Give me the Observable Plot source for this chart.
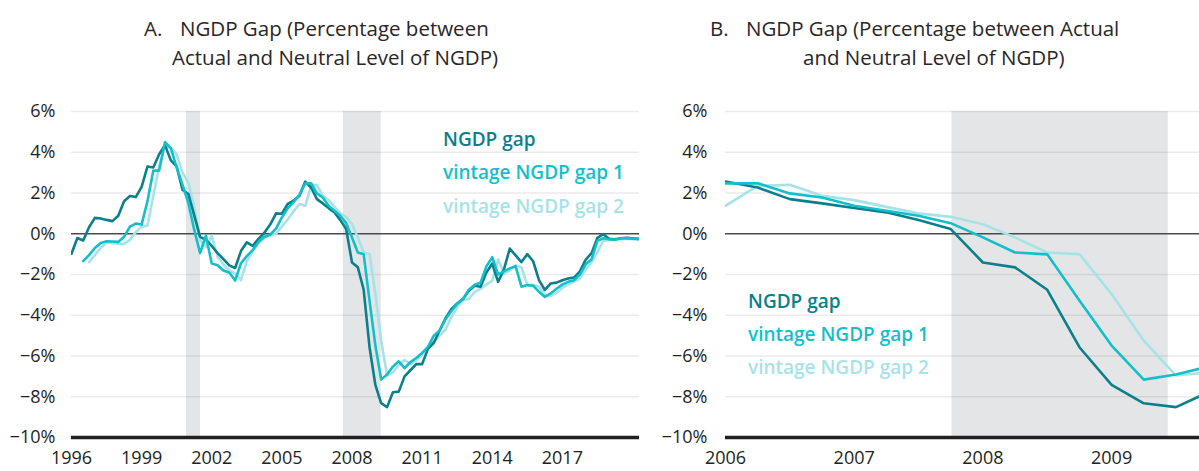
<!DOCTYPE html>
<html><head><meta charset="utf-8">
<script src="https://cdn.jsdelivr.net/npm/d3@7"></script>
<script src="https://cdn.jsdelivr.net/npm/@observablehq/plot@0.6"></script>
<style>
body{margin:0;background:#fff;}
#wrap{position:relative;width:1199px;height:471px;overflow:hidden;font-family:"Open Sans",sans-serif;color:#231f20;}
.t{position:absolute;font-size:20.5px;white-space:nowrap;line-height:1;color:#2a2627;}
.t .n{display:inline-block;width:36px;}
.lg{position:absolute;font-size:19px;font-weight:600;white-space:nowrap;line-height:1;}
.panel{position:absolute;top:95px;}
</style></head><body>
<div id="wrap">
  <div class="t" style="left:144px;top:18px"><span class="n">A.</span>NGDP Gap (Percentage between</div>
  <div class="t" style="left:172px;top:47px">Actual and Neutral Level of NGDP)</div>
  <div class="t" style="left:710px;top:18px"><span class="n">B.</span>NGDP Gap (Percentage between Actual</div>
  <div class="t" style="left:803px;top:47px">and Neutral Level of NGDP)</div>
  <div id="panelA" class="panel" style="left:0px"></div>
  <div id="panelB" class="panel" style="left:660px"></div>
  <div id="legendA"></div>
  <div id="legendB"></div>
</div>
<script>
// ---- data (quarterly, starting 1996 Q1) ----
const startYear = 1996;
const seriesNames = ["NGDP gap", "vintage NGDP gap 1", "vintage NGDP gap 2"];
const seriesColors = ["#0b7f8b", "#13bfca", "#a6e3e7"];

const ngdpGap = [-0.98,-0.21,-0.33,0.32,0.78,0.75,0.68,0.62,0.88,1.6,1.85,1.8,2.3,3.3,3.25,3.9,4.35,3.6,3.3,2.15,1.95,0.9,-0.15,-0.3,-0.6,-0.95,-1.25,-1.55,-1.68,-0.85,-0.42,-0.6,-0.25,0.05,0.45,1.0,0.98,1.46,1.62,1.87,2.56,2.27,1.70,1.49,1.26,1.05,0.67,0.23,-1.41,-1.65,-2.75,-5.57,-7.42,-8.32,-8.51,-7.78,-7.75,-7.0,-6.7,-6.4,-6.4,-5.65,-5.35,-4.75,-4.15,-3.7,-3.42,-3.2,-2.8,-2.55,-2.6,-1.9,-1.46,-2.36,-1.75,-0.73,-1.06,-1.39,-1.0,-1.35,-2.28,-2.76,-2.44,-2.4,-2.28,-2.2,-2.15,-1.85,-1.27,-0.95,-0.2,-0.02,-0.25,-0.27,-0.22,-0.2,-0.22,-0.26];
const vintageGap1 = [null,null,-1.34,-1.05,-0.7,-0.45,-0.37,-0.38,-0.4,-0.15,0.35,0.5,0.45,1.6,3.1,3.1,4.5,4.2,3.25,2.4,1.5,0.2,-0.95,-0.1,-1.46,-1.55,-1.8,-1.9,-2.3,-1.45,-1.1,-0.8,-0.4,-0.15,-0.05,0.25,0.8,1.25,1.55,1.9,2.47,2.48,1.98,1.78,1.37,1.13,0.88,0.52,-0.18,-0.92,-1.01,-3.28,-5.49,-7.16,-6.91,-6.52,-6.26,-6.6,-6.3,-6.1,-5.85,-5.55,-5.0,-4.75,-4.2,-3.8,-3.43,-3.2,-2.75,-2.5,-2.4,-1.6,-1.15,-2.0,-1.85,-1.7,-1.6,-2.6,-2.52,-2.55,-2.85,-3.1,-2.93,-2.7,-2.5,-2.36,-2.28,-2.0,-1.5,-1.25,-0.35,-0.22,-0.27,-0.29,-0.22,-0.22,-0.24,-0.24];
const vintageGap2 = [null,null,null,-1.39,-1.05,-0.7,-0.42,-0.47,-0.49,-0.49,-0.3,0.08,0.35,0.4,1.85,3.3,4.3,4.2,3.9,3.0,2.5,1.3,-0.3,-0.65,-0.1,-1.14,-1.5,-1.8,-1.95,-2.28,-1.35,-0.85,-0.45,-0.2,-0.07,0.0,0.35,0.7,1.1,1.46,1.37,2.35,2.40,1.86,1.65,1.32,1.00,0.83,0.47,-0.18,-0.92,-1.00,-2.96,-5.25,-6.96,-6.80,-6.45,-6.2,-6.4,-6.2,-5.95,-5.55,-5.3,-5.0,-4.7,-4.1,-3.6,-3.25,-3.2,-2.85,-2.7,-2.5,-2.3,-1.25,-1.95,-1.8,-1.55,-1.65,-2.52,-2.5,-2.6,-3.0,-3.05,-2.9,-2.65,-2.5,-2.35,-2.2,-1.75,-1.4,-0.9,-0.35,-0.3,-0.28,-0.27,-0.24,-0.27,-0.29];

// shaded periods (as drawn in each panel)
const shadeStartA = [2000.92, 2007.63];
const shadeEndA   = [2001.52, 2009.25];
const shadeStartB = [2007.76];
const shadeEndB   = [2009.44];

const yTicks = [-10, -8, -6, -4, -2, 0, 2, 4, 6];
const gridTicks = [-8, -6, -4, -2, 2, 4, 6];
const xTicksA = [1996, 1999, 2002, 2005, 2008, 2011, 2014, 2017];
const xTicksB = [2006, 2007, 2008, 2009];

// ---- build table ----
const allSeries = [ngdpGap, vintageGap1, vintageGap2];
const rows = [];
// draw order: light, dark, cyan
[2, 0, 1].forEach(si => {
  allSeries[si].forEach((v, k) => {
    if (v !== null) rows.push({date: startYear + k / 4, value: v, series: seriesNames[si]});
  });
});
const shadesA = shadeStartA.map((s, i) => ({start: s, end: shadeEndA[i]}));
const shadesB = shadeStartB.map((s, i) => ({start: s, end: shadeEndB[i]}));

const fmtPct = d => (d < 0 ? "\u2212" : "") + Math.abs(d) + "%";

function panel(o) {
  return Plot.plot({
    width: o.width, height: 376,
    marginLeft: o.marginLeft, marginRight: o.marginRight, marginTop: 16, marginBottom: 34,
    style: {fontFamily: "Open Sans", fontSize: "18px", color: "#231f20", background: "transparent", overflow: "visible"},
    x: {domain: o.xDomain, ticks: o.xTicks, tickSize: 0, tickPadding: 14, tickFormat: d => String(d), label: null},
    y: {domain: [-10, 6], ticks: yTicks, tickSize: 0, tickPadding: o.yPad, tickFormat: fmtPct, label: null},
    color: {domain: seriesNames, range: seriesColors},
    marks: [
      Plot.rect(o.shades, {x1: "start", x2: "end", y1: -10, y2: 6, fill: "#e4e5e7"}),
      Plot.ruleY(gridTicks, {stroke: "#000", strokeOpacity: 0.08, strokeWidth: 1.5}),
      Plot.ruleY([0], {stroke: "#4a4a4a", strokeWidth: 1.5}),
      Plot.line(rows, {x: "date", y: "value", z: "series", stroke: "series", strokeWidth: 2.6, clip: true}),
      Plot.ruleY([-10], {stroke: "#231f20", strokeWidth: 3.5})
    ]
  });
}

document.getElementById("panelA").append(panel({
  width: 660, marginLeft: 71, marginRight: 21, xDomain: [1996, 2020.3], xTicks: xTicksA, shades: shadesA, yPad: 16
}));
document.getElementById("panelB").append(panel({
  width: 539, marginLeft: 65, marginRight: 0, xDomain: [2006, 2009.683], xTicks: xTicksB, shades: shadesB, yPad: 18
}));

function legend(id, left, tops) {
  const el = document.getElementById(id);
  seriesNames.forEach((n, i) => {
    const d = document.createElement("div");
    d.className = "lg";
    d.style.left = left + "px";
    d.style.top = tops[i] + "px";
    d.style.color = seriesColors[i];
    d.textContent = n;
    el.append(d);
  });
}
legend("legendA", 443, [130, 163, 197]);
legend("legendB", 748, [292, 325, 358]);
</script>
</body></html>
